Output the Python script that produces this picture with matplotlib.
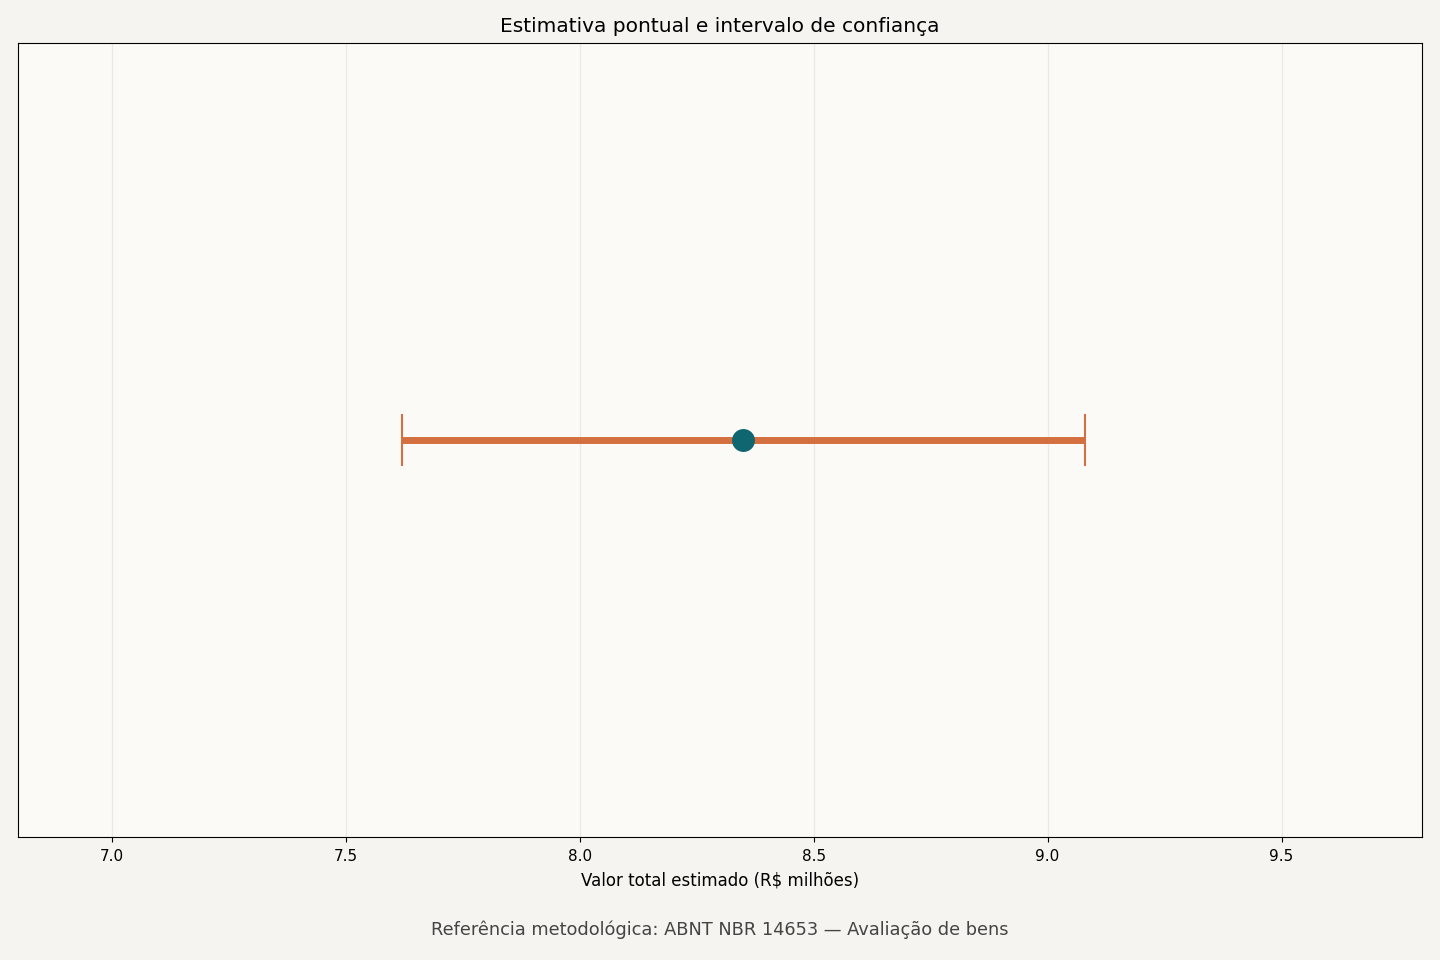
import matplotlib
matplotlib.use("Agg")
import matplotlib.pyplot as plt

# estimate and confidence interval (R$ millions)
labels = ["Valor total"]
estimates = [8.35]
ci_low = [7.62]
ci_high = [9.08]

fig, ax = plt.subplots(figsize=(14.4, 9.6), dpi=100)
fig.patch.set_facecolor("#f5f4f0")
ax.set_facecolor("#fbfaf7")

ypos = list(range(len(labels)))
xerr = [[e - l for e, l in zip(estimates, ci_low)],
        [h - e for e, h in zip(estimates, ci_high)]]

eb = ax.errorbar(estimates, ypos, xerr=xerr, fmt="none", ecolor="#d4703f",
                 elinewidth=5, capsize=19, capthick=1.5, zorder=2)
for cap in eb[1]:
    cap.set_color("#c98058")
ax.plot(estimates, ypos, "o", color="#0f6670", markersize=15.5, zorder=3)

ax.set_xlim(6.8, 9.8)
ax.set_ylim(-1, 1)
ax.set_yticks([])
ax.set_xticks([7.0, 7.5, 8.0, 8.5, 9.0, 9.5])
ax.tick_params(axis="x", labelsize=11, pad=5)
ax.grid(axis="x", color="#ebe9e4", linewidth=0.9)
ax.set_axisbelow(True)

ax.set_xlabel("Valor total estimado (R$ milhões)", fontsize=12, labelpad=5.5)
ax.set_title("Estimativa pontual e intervalo de confiança", fontsize=14.5, pad=8)
fig.text(0.5, 0.031, "Referência metodológica: ABNT NBR 14653 — Avaliação de bens",
         ha="center", va="center", fontsize=12.8, color="#444444")

fig.subplots_adjust(left=0.0125, right=0.9875, top=0.955, bottom=0.128)
fig.savefig("out.png", dpi=100, facecolor=fig.get_facecolor())
